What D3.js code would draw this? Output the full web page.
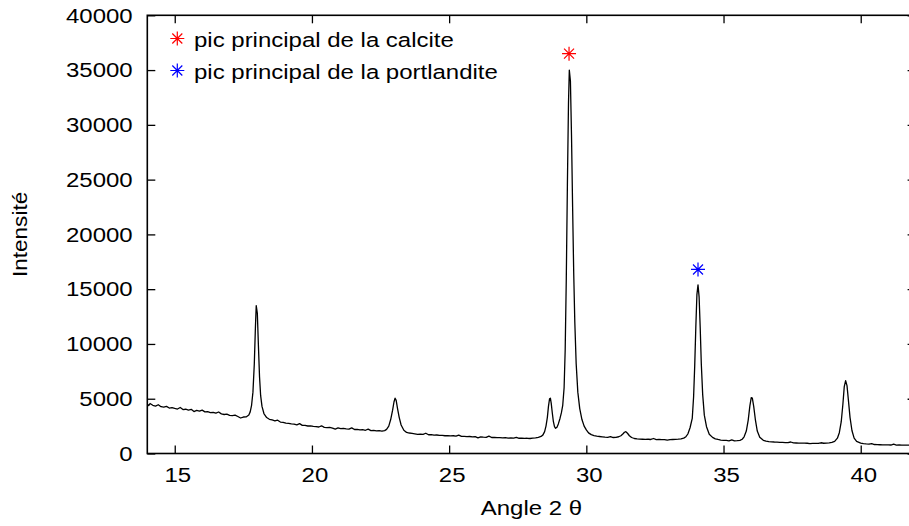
<!DOCTYPE html>
<html>
<head>
<meta charset="utf-8">
<script src="https://cdn.jsdelivr.net/npm/d3@7"></script>
<style>
  html, body { margin: 0; padding: 0; background: #fff; }
  svg { display: block; font-family: "Liberation Sans", Arial, sans-serif; }
</style>
</head>
<body>
<div id="chart"></div>
<script>
// diffractogramme : [angle 2theta, intensite]
const diffractogram = [
  [14.00, 4520], [14.05, 4380], [14.10, 4560], [14.20, 4400], [14.30, 4330], [14.40, 4450],
  [14.50, 4270], [14.60, 4230], [14.70, 4300], [14.80, 4150], [14.90, 4180], [15.00, 4110],
  [15.10, 4060], [15.20, 4200], [15.30, 4010], [15.40, 4040], [15.50, 3970], [15.60, 4030],
  [15.70, 3830], [15.80, 3930], [15.90, 3860], [16.00, 3960], [16.10, 3800], [16.20, 3820],
  [16.30, 3740], [16.40, 3760], [16.50, 3680], [16.60, 3790], [16.70, 3620], [16.80, 3560],
  [16.90, 3590], [17.00, 3480], [17.10, 3450], [17.20, 3500], [17.30, 3380], [17.40, 3240],
  [17.50, 3330], [17.60, 3340], [17.70, 3520], [17.75, 3800], [17.80, 4400], [17.85, 5600],
  [17.90, 8200], [17.94, 11500], [17.97, 13500], [18.01, 12800], [18.05, 9800], [18.09, 7000],
  [18.13, 5300], [18.18, 4300], [18.25, 3650], [18.35, 3280], [18.45, 3120], [18.55, 3060],
  [18.65, 2980], [18.75, 3040], [18.85, 2870], [18.95, 2840], [19.05, 2780], [19.15, 2750],
  [19.25, 2700], [19.35, 2680], [19.45, 2620], [19.55, 2730], [19.65, 2570], [19.75, 2560],
  [19.85, 2510], [19.95, 2530], [20.05, 2470], [20.15, 2450], [20.25, 2420], [20.35, 2530],
  [20.45, 2380], [20.55, 2360], [20.65, 2390], [20.75, 2320], [20.85, 2230], [20.95, 2330],
  [21.05, 2270], [21.15, 2290], [21.25, 2240], [21.35, 2220], [21.45, 2340], [21.55, 2190],
  [21.65, 2200], [21.75, 2150], [21.85, 2170], [21.95, 2120], [22.05, 2230], [22.15, 2090],
  [22.25, 2110], [22.35, 2060], [22.45, 2080], [22.55, 2040], [22.65, 2090], [22.72, 2200],
  [22.80, 2500], [22.87, 3100], [22.94, 3950], [22.99, 4700], [23.03, 5050], [23.07, 4850],
  [23.12, 4100], [23.18, 3300], [23.25, 2600], [23.35, 2120], [23.45, 1920], [23.55, 1870],
  [23.65, 1840], [23.75, 1800], [23.85, 1750], [23.95, 1770], [24.05, 1750], [24.15, 1850],
  [24.25, 1710], [24.35, 1720], [24.45, 1680], [24.55, 1690], [24.65, 1650], [24.75, 1660],
  [24.85, 1620], [24.95, 1640], [25.05, 1600], [25.15, 1620], [25.25, 1580], [25.35, 1680],
  [25.45, 1560], [25.55, 1570], [25.65, 1540], [25.75, 1550], [25.85, 1520], [25.95, 1540],
  [26.05, 1430], [26.15, 1520], [26.25, 1490], [26.35, 1470], [26.45, 1590], [26.55, 1460],
  [26.65, 1470], [26.75, 1440], [26.85, 1450], [26.95, 1420], [27.05, 1440], [27.15, 1410],
  [27.25, 1420], [27.35, 1400], [27.45, 1480], [27.55, 1390], [27.65, 1400], [27.75, 1380],
  [27.85, 1390], [27.95, 1370], [28.05, 1400], [28.15, 1430], [28.25, 1480], [28.35, 1560],
  [28.42, 1700], [28.48, 2000], [28.53, 2500], [28.58, 3300], [28.62, 4300], [28.66, 5000],
  [28.69, 5050], [28.72, 4600], [28.76, 3700], [28.80, 2900], [28.84, 2450], [28.88, 2300],
  [28.93, 2400], [28.98, 2700], [29.04, 3200], [29.09, 3700], [29.14, 4400], [29.19, 6000],
  [29.23, 9500], [29.27, 16000], [29.31, 24500], [29.35, 32000], [29.38, 35000], [29.42, 34000],
  [29.46, 29000], [29.50, 22500], [29.54, 16500], [29.58, 12000], [29.63, 8200], [29.69, 5600],
  [29.76, 4100], [29.84, 3100], [29.92, 2500], [30.00, 2150], [30.08, 1880], [30.18, 1720],
  [30.28, 1640], [30.38, 1580], [30.48, 1550], [30.58, 1520], [30.68, 1490], [30.78, 1480],
  [30.88, 1540], [30.98, 1460], [31.08, 1480], [31.18, 1530], [31.26, 1620], [31.33, 1780],
  [31.39, 1940], [31.44, 1990], [31.50, 1850], [31.57, 1620], [31.65, 1460], [31.75, 1370],
  [31.85, 1330], [31.95, 1310], [32.05, 1300], [32.15, 1290], [32.25, 1300], [32.35, 1280],
  [32.45, 1370], [32.55, 1270], [32.65, 1280], [32.75, 1260], [32.85, 1270], [32.95, 1220],
  [33.05, 1270], [33.15, 1280], [33.25, 1290], [33.35, 1310], [33.45, 1340], [33.55, 1400],
  [33.63, 1530], [33.70, 1780], [33.78, 2350], [33.86, 3200], [33.91, 5200], [33.95, 8000],
  [33.99, 11500], [34.03, 14500], [34.07, 15400], [34.11, 14300], [34.15, 11500], [34.19, 8200],
  [34.24, 5400], [34.30, 3500], [34.38, 2450], [34.48, 1750], [34.60, 1470], [34.70, 1340],
  [34.80, 1280], [34.90, 1230], [35.00, 1200], [35.10, 1190], [35.20, 1160], [35.30, 1240],
  [35.40, 1150], [35.50, 1170], [35.60, 1200], [35.68, 1300], [35.75, 1520], [35.83, 2050],
  [35.90, 3050], [35.96, 4350], [36.01, 5100], [36.05, 5050], [36.10, 4300], [36.16, 3100],
  [36.23, 2050], [36.32, 1480], [36.45, 1200], [36.55, 1130], [36.65, 1090], [36.75, 1070],
  [36.85, 1050], [36.95, 1040], [37.05, 1020], [37.15, 1010], [37.25, 1000], [37.35, 990],
  [37.45, 1050], [37.55, 970], [37.65, 960], [37.75, 955], [37.85, 945], [37.95, 940],
  [38.05, 935], [38.15, 900], [38.25, 925], [38.35, 920], [38.45, 925], [38.55, 980],
  [38.65, 935], [38.75, 950], [38.85, 970], [38.95, 1010], [39.05, 1100], [39.15, 1400],
  [39.22, 1900], [39.29, 2900], [39.35, 4500], [39.40, 6100], [39.45, 6650], [39.50, 6200],
  [39.55, 4900], [39.61, 3300], [39.68, 2100], [39.76, 1400], [39.85, 1100], [40.00, 950],
  [40.10, 900], [40.20, 870], [40.30, 850], [40.40, 900], [40.50, 820], [40.60, 810],
  [40.70, 800], [40.80, 790], [40.90, 790], [41.00, 780], [41.10, 775], [41.20, 850],
  [41.30, 770], [41.40, 775], [41.50, 765], [41.60, 770], [41.70, 760], [41.80, 765],
  [41.90, 760], [42.00, 760]
];

// pics principaux marques par une etoile
const peakMarks = [
  { label: 'pic principal de la calcite', angle: 29.37, value: 36500, color: '#ff0000' },
  { label: 'pic principal de la portlandite', angle: 34.07, value: 16800, color: '#0000ff' }
];

const xTicks = [15, 20, 25, 30, 35, 40];
const yTicks = [0, 5000, 10000, 15000, 20000, 25000, 30000, 35000, 40000];
const xDomain = [14, 42];
const yDomain = [0, 40000];

const W = 909, H = 526;
// zone du trace (le cadre droit sort de l'image, comme sur l'original)
const plotLeft = 147.3, plotRight = 915.6, plotTop = 15.3, plotBottom = 453.5;
const fontSize = 20.5;
const stretch = 1.17; // texte etire horizontalement

const svg = d3.select('#chart')
  .append('svg')
  .attr('width', W)
  .attr('height', H);

const x = d3.scaleLinear().domain(xDomain).range([plotLeft, plotRight]);
const y = d3.scaleLinear().domain(yDomain).range([plotBottom, plotTop]);

// axe x (bas) avec graduations vers l'interieur
const gx = svg.append('g')
  .attr('transform', `translate(0, ${plotBottom})`)
  .call(d3.axisBottom(x).tickValues(xTicks).tickSizeInner(-8).tickSizeOuter(0).tickFormat(d3.format('d')));
gx.select('.domain').remove();
gx.selectAll('line').attr('stroke-width', 1.3);
gx.selectAll('text')
  .attr('dy', null)
  .attr('y', 29)
  .attr('x', 2.5 / stretch)
  .attr('transform', `scale(${stretch},1)`)
  .style('font-size', fontSize + 'px')
  .style('font-family', '"Liberation Sans", Arial, sans-serif')
  .attr('fill', '#000');

// graduations miroir en haut
const gxTop = svg.append('g')
  .attr('transform', `translate(0, ${plotTop})`)
  .call(d3.axisTop(x).tickValues(xTicks).tickSizeInner(-8).tickSizeOuter(0).tickFormat(''));
gxTop.select('.domain').remove();
gxTop.selectAll('line').attr('stroke-width', 1.3);

// axe y (gauche)
const gy = svg.append('g')
  .attr('transform', `translate(${plotLeft}, 0)`)
  .call(d3.axisLeft(y).tickValues(yTicks).tickSizeInner(-8).tickSizeOuter(0).tickFormat(d3.format('d')));
gy.select('.domain').remove();
gy.selectAll('line').attr('stroke-width', 1.3);
gy.selectAll('text')
  .attr('dy', null)
  .attr('y', 6.8)
  .attr('x', -14.6 / stretch)
  .attr('transform', `scale(${stretch},1)`)
  .style('font-size', fontSize + 'px')
  .style('font-family', '"Liberation Sans", Arial, sans-serif')
  .attr('fill', '#000');

// graduations miroir a droite
const gyRight = svg.append('g')
  .attr('transform', `translate(${plotRight}, 0)`)
  .call(d3.axisRight(y).tickValues(yTicks).tickSizeInner(-8).tickSizeOuter(0).tickFormat(''));
gyRight.select('.domain').remove();
gyRight.selectAll('line').attr('stroke-width', 1.3);

// cadre
svg.append('rect')
  .attr('x', plotLeft)
  .attr('y', plotTop)
  .attr('width', plotRight - plotLeft)
  .attr('height', plotBottom - plotTop)
  .attr('fill', 'none')
  .attr('stroke', '#000')
  .attr('stroke-width', 1.6);

// courbe
svg.append('clipPath')
  .attr('id', 'clip')
  .append('rect')
  .attr('x', plotLeft)
  .attr('y', plotTop)
  .attr('width', plotRight - plotLeft)
  .attr('height', plotBottom - plotTop);

const line = d3.line()
  .x(function (d) { return x(d[0]); })
  .y(function (d) { return y(d[1]); });

svg.append('path')
  .datum(diffractogram)
  .attr('clip-path', 'url(#clip)')
  .attr('d', line)
  .attr('fill', 'none')
  .attr('stroke', '#000')
  .attr('stroke-width', 1.3)
  .attr('stroke-linejoin', 'round');

// etoile type gnuplot (+ et x superposes)
function star(g, cx, cy, color) {
  const r = 7, d = 5;
  g.append('path')
    .attr('d', `M${cx - r},${cy}H${cx + r}M${cx},${cy - r}V${cy + r}` +
      `M${cx - d},${cy - d}L${cx + d},${cy + d}M${cx - d},${cy + d}L${cx + d},${cy - d}`)
    .attr('stroke', color)
    .attr('stroke-width', 1.2)
    .attr('fill', 'none');
}

peakMarks.forEach(function (m) {
  star(svg, x(m.angle), y(m.value), m.color);
});

// legende
const legend = svg.append('g');
peakMarks.forEach(function (m, i) {
  const base = 46.5 + i * 32;
  star(legend, 177.3, base - 8, m.color);
  legend.append('text')
    .attr('transform', `translate(194, ${base}) scale(${stretch},1)`)
    .style('font-size', fontSize + 'px')
    .attr('fill', '#000')
    .text(m.label);
});

// titres des axes
svg.append('text')
  .attr('transform', `translate(${(plotLeft + plotRight) / 2}, 515) scale(${stretch},1)`)
  .attr('text-anchor', 'middle')
  .style('font-size', fontSize + 'px')
  .attr('fill', '#000')
  .text('Angle 2 θ');

svg.append('text')
  .attr('transform', `translate(26.7, ${(plotTop + plotBottom) / 2}) rotate(-90) scale(1.1,1)`)
  .attr('text-anchor', 'middle')
  .style('font-size', fontSize + 'px')
  .attr('fill', '#000')
  .text('Intensité');
</script>
</body>
</html>
